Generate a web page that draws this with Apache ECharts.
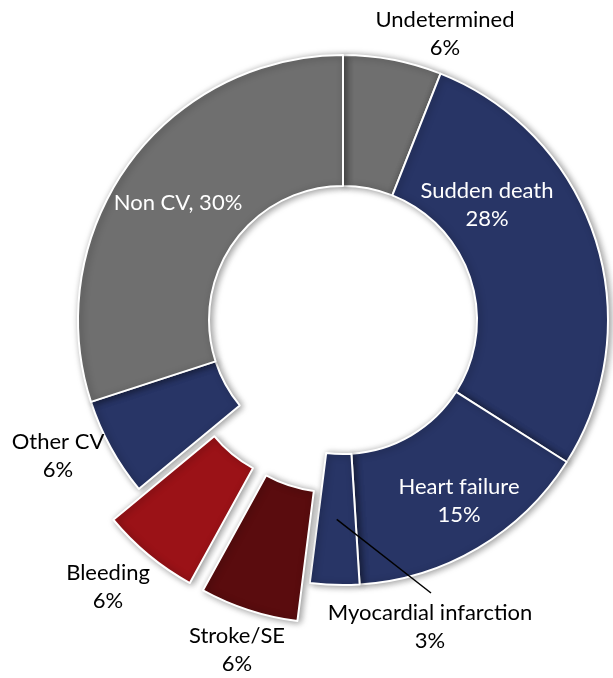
<!DOCTYPE html>
<html>
<head>
<meta charset="utf-8">
<script src="https://cdn.jsdelivr.net/npm/echarts@6/dist/echarts.min.js"></script>
<style>
  html, body { margin: 0; padding: 0; background: #fff; }
  #chart { width: 613px; height: 678px; }
</style>
</head>
<body>
<div id="chart"></div>
<script>
// 数据（顺时针，从12点开始）
const categories = ['Undetermined', 'Sudden death', 'Heart failure', 'Myocardial infarction',
                    'Stroke/SE', 'Bleeding', 'Other CV', 'Non CV'];
const shares = [6, 28, 15, 3, 6, 6, 6, 30];
const exploded = ['Stroke/SE', 'Bleeding'];

// 样式
const GRAY = '#6f6f6f';
const NAVY = '#283566';
const COLORS = {
    'Undetermined': GRAY,
    'Sudden death': NAVY,
    'Heart failure': NAVY,
    'Myocardial infarction': NAVY,
    'Stroke/SE': '#5a0c0e',
    'Bleeding': '#9b1217',
    'Other CV': NAVY,
    'Non CV': GRAY
};
const INSIDE = ['Sudden death', 'Heart failure', 'Non CV'];
// 标签中心位置 (px)
const LABEL_AT = {
    'Undetermined': [445, 34],
    'Sudden death': [487, 205],
    'Heart failure': [459, 501],
    'Myocardial infarction': [430, 627],
    'Stroke/SE': [237, 650],
    'Bleeding': [108, 587],
    'Other CV': [58, 456],
    'Non CV': [178, 203]
};
const CENTER = [343, 320];
const RADIUS = [134, 265];
const EXPLODE = 40;
const MI_LINE_TO = [431, 593];

const total = shares.reduce((a, b) => a + b, 0);
// 扇区中线角度（度，从12点顺时针）
function midAngle(idx) {
    let cum = 0;
    for (let i = 0; i < idx; i++) cum += shares[i];
    return (cum + shares[idx] / 2) / total * 360;
}
function polar(angleDeg, r, c) {
    const a = angleDeg * Math.PI / 180;
    return [c[0] + r * Math.sin(a), c[1] - r * Math.cos(a)];
}

const HIDDEN = {
    itemStyle: { color: 'rgba(0,0,0,0)', borderWidth: 0, shadowBlur: 0, shadowColor: 'rgba(0,0,0,0)' },
    label: { show: false },
    labelLine: { show: false }
};

// only: 只显示这些扇区
function buildData(only) {
    return categories.map((name, i) => {
        if (!only.includes(name)) return Object.assign({ name, value: shares[i] }, HIDDEN);
        return {
            name,
            value: shares[i],
            itemStyle: { color: COLORS[name] },
            label: {
                color: INSIDE.includes(name) ? '#fff' : '#000',
                formatter: name === 'Non CV' ? '{b}, {c}%' : '{b}\n{c}%'
            },
            labelLine: { show: false }
        };
    });
}

function baseSeries(center, data) {
    return {
        type: 'pie',
        center,
        radius: RADIUS,
        startAngle: 90,
        clockwise: true,
        avoidLabelOverlap: false,
        itemStyle: {
            borderColor: '#fff',
            borderWidth: 2,
            shadowBlur: 7,
            shadowColor: 'rgba(0,0,0,0.4)',
            shadowOffsetX: 2,
            shadowOffsetY: 1
        },
        label: {
            show: true,
            position: 'outside',
            fontFamily: 'Lato',
            fontSize: 22,
            lineHeight: 28,
            align: 'center'
        },
        emphasis: { disabled: true },
        labelLayout: (params) => {
            const pos = LABEL_AT[categories[params.dataIndex]];
            return { x: pos[0], y: pos[1], align: 'center', verticalAlign: 'middle' };
        },
        data
    };
}

const series = [baseSeries(CENTER, buildData(categories.filter(n => !exploded.includes(n))))];
exploded.forEach(name => {
    const c = polar(midAngle(categories.indexOf(name)), EXPLODE, CENTER);
    series.push(baseSeries(c, buildData([name])));
});

// 心肌梗死引线：从扇区中部到标签
const miIdx = categories.indexOf('Myocardial infarction');
const miFrom = polar(midAngle(miIdx), (RADIUS[0] + RADIUS[1]) / 2, CENTER);

const chart = echarts.init(document.getElementById('chart'), null, { renderer: 'canvas' });
chart.setOption({
    animation: false,
    series,
    graphic: [{
        type: 'line',
        z: 100,
        shape: { x1: miFrom[0], y1: miFrom[1], x2: MI_LINE_TO[0], y2: MI_LINE_TO[1] },
        style: { stroke: '#000', lineWidth: 1.5 }
    }]
});
</script>
</body>
</html>
